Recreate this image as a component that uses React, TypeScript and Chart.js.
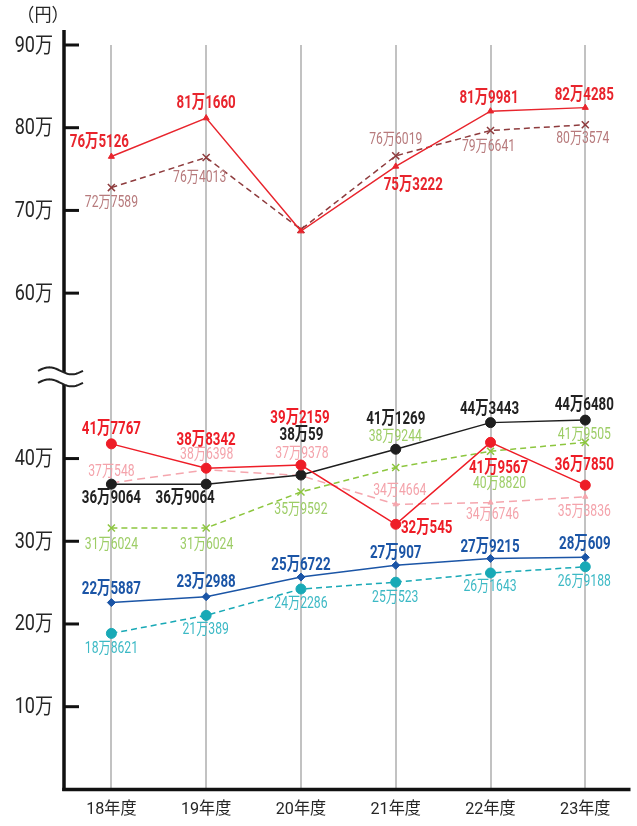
import { useEffect, useRef } from 'react';
import { Chart, registerables } from 'chart.js';

Chart.register(...registerables);

// ---- data ----
const categories = ['18年度', '19年度', '20年度', '21年度', '22年度', '23年度'];
const yTickValues = [100000, 200000, 300000, 400000, 600000, 700000, 800000, 900000];
const unitLabel = '（円）';

const seriesA = [765126, 811660, 675000, 753222, 819981, 824285];
const seriesB = [727589, 764013, 677000, 766019, 796641, 803574];
const seriesC = [417767, 388342, 392159, 320545, 419567, 367850];
const seriesD = [369064, 369064, 380059, 411269, 443443, 446480];
const seriesE = [370548, 386398, 379378, 344664, 346746, 353836];
const seriesF = [316024, 316024, 359592, 389244, 408820, 419505];
const seriesG = [225887, 232988, 256722, 270907, 279215, 280609];
const seriesH = [188621, 210389, 242286, 250523, 261643, 269188];

// ---- label placement (pixel offsets from the point; null = no label) ----
type Off = [number, number] | null;
const offA: Off[] = [[-12, -14.5], [0, -14.5], null, [17.5, 19], [-1.5, -12.5], [-1, -12.5]];
const offB: Off[] = [[0, 15], [-6.5, 21], null, [0, -15.6], [-2, 17], [-2.5, 14.5]];
const offC: Off[] = [[0, -14], [0, -28], [-1, -46.7], [31, 4], [8, 26], [-1, -20]];
const offD: Off[] = [[0, 14], [-21, 14], [0.5, -40], [0, -30], [-1, -13.5], [-1, -14.5]];
const offE: Off[] = [[0, -11], [0.5, -15], [1, -22], [4, -13.5], [2, 12], [-1, 15.5]];
const offF: Off[] = [[0, 17], [0.5, 17], [0, 18], [-0.5, -30.7], [9, 33], [-1, -7.7]];
const offG: Off[] = [[0, -13], [0, -14], [0, -11.6], [0, -11.4], [-0.5, -11], [-0.5, -12.8]];
const offH: Off[] = [[0, 16], [-0.5, 15], [0, 15], [-0.5, 16], [-0.5, 14], [-1, 15]];

const fmt = (v: number) => `${Math.floor(v / 10000)}万${v % 10000}`;

const FONT_FAMILY = 'Roboto, "Noto Sans CJK JP", sans-serif';

function drawText(
  ctx: CanvasRenderingContext2D,
  text: string,
  x: number,
  y: number,
  font: string,
  color: string,
  sx: number,
  align: CanvasTextAlign = 'center'
) {
  ctx.save();
  ctx.translate(x, y);
  ctx.scale(sx, 1);
  ctx.font = font;
  ctx.fillStyle = color;
  ctx.textAlign = align;
  ctx.textBaseline = 'middle';
  ctx.fillText(text, 0, 0);
  ctx.restore();
}

interface SeriesDef {
  values: number[];
  offs: Off[];
  color: string;
  labelColor: string;
  bold: boolean;
  dash: number[];
  pointStyle: string;
  radius: number;
}

const defs: SeriesDef[] = [
  { values: seriesA, offs: offA, color: '#e8252d', labelColor: '#e8252d', bold: true, dash: [], pointStyle: 'triangle', radius: 3.5 },
  { values: seriesB, offs: offB, color: '#8e3b3d', labelColor: '#b77a7c', bold: false, dash: [6, 4], pointStyle: 'crossRot', radius: 5 },
  { values: seriesC, offs: offC, color: '#ee1d27', labelColor: '#ee1d27', bold: true, dash: [], pointStyle: 'circle', radius: 5 },
  { values: seriesD, offs: offD, color: '#1e1e1e', labelColor: '#222222', bold: true, dash: [], pointStyle: 'circle', radius: 5 },
  { values: seriesE, offs: offE, color: '#f5a6ae', labelColor: '#f4a3ab', bold: false, dash: [8, 5], pointStyle: 'triangle', radius: 3 },
  { values: seriesF, offs: offF, color: '#8dc63f', labelColor: '#9dcd66', bold: false, dash: [6, 4], pointStyle: 'crossRot', radius: 5 },
  { values: seriesG, offs: offG, color: '#1b55a6', labelColor: '#1b55a6', bold: true, dash: [], pointStyle: 'rectRot', radius: 4 },
  { values: seriesH, offs: offH, color: '#18a9b6', labelColor: '#3cb9c5', bold: false, dash: [6, 4], pointStyle: 'circle', radius: 5 },
];

const decorPlugin = {
  id: 'decor',
  beforeDatasetsDraw(chart: any) {
    const ctx: CanvasRenderingContext2D = chart.ctx;
    const { left, right, bottom } = chart.chartArea;
    const ys = chart.scales.y;
    const xs = chart.scales.x;
    ctx.save();
    ctx.strokeStyle = '#111';
    ctx.lineCap = 'butt';
    // y axis line
    ctx.lineWidth = 3.5;
    ctx.beginPath();
    ctx.moveTo(left, 30);
    ctx.lineTo(left, bottom + 1.5);
    ctx.stroke();
    // x axis line
    ctx.beginPath();
    ctx.moveTo(left - 1.75, bottom);
    ctx.lineTo(right, bottom);
    ctx.stroke();
    // y ticks marks + labels
    ctx.lineWidth = 3;
    yTickValues.forEach((v) => {
      const py = ys.getPixelForValue(v);
      ctx.beginPath();
      ctx.moveTo(left, py);
      ctx.lineTo(left + 15, py);
      ctx.stroke();
      drawText(ctx, `${v / 10000}万`, left - 11, py + 1, `22px ${FONT_FAMILY}`, '#262626', 0.82, 'right');
    });
    // x labels
    xs.ticks.forEach((t: any) => {
      const px = xs.getPixelForValue(t.value);
      const lab = categories[t.value];
      if (lab) drawText(ctx, lab, px, bottom + 20.5, `17px ${FONT_FAMILY}`, '#262626', 0.95);
    });
    // unit
    drawText(ctx, unitLabel, 43, 16, `18px ${FONT_FAMILY}`, '#262626', 0.95);
    // axis break squiggle
    const yMid = ys.getPixelForValue(500000);
    const x0 = 38, x1 = 83, amp = 3.5;
    const yU = yMid - 5, yL = yMid + 7;
    const wave = (yc: number) => {
      const pts: [number, number][] = [];
      for (let i = 0; i <= 40; i++) {
        const t = i / 40;
        pts.push([x0 + (x1 - x0) * t, yc - amp * Math.sin(t * Math.PI * 2)]);
      }
      return pts;
    };
    const up = wave(yU), lo = wave(yL);
    ctx.fillStyle = '#ffffff';
    ctx.beginPath();
    up.forEach(([x, y], i) => (i ? ctx.lineTo(x, y) : ctx.moveTo(x, y)));
    for (let i = lo.length - 1; i >= 0; i--) ctx.lineTo(lo[i][0], lo[i][1]);
    ctx.closePath();
    ctx.fill();
    ctx.strokeStyle = '#222';
    ctx.lineWidth = 2;
    [up, lo].forEach((pts) => {
      ctx.beginPath();
      pts.forEach(([x, y], i) => (i ? ctx.lineTo(x, y) : ctx.moveTo(x, y)));
      ctx.stroke();
    });
    ctx.restore();
  },
  afterDatasetsDraw(chart: any) {
    const ctx: CanvasRenderingContext2D = chart.ctx;
    defs.forEach((d, di) => {
      const meta = chart.getDatasetMeta(di);
      meta.data.forEach((pt: any, i: number) => {
        const o = d.offs[i];
        if (!o) return;
        const font = d.bold ? `bold 18px ${FONT_FAMILY}` : `16px ${FONT_FAMILY}`;
        const sx = d.bold ? 0.74 : 0.76;
        drawText(ctx, fmt(d.values[i]), pt.x + o[0], pt.y + o[1], font, d.labelColor, sx);
      });
    });
  },
};

export default function App() {
  const ref = useRef<HTMLCanvasElement>(null);
  useEffect(() => {
    const chart = new Chart(ref.current!, {
      type: 'line',
      data: {
        datasets: defs.map((d) => ({
          data: d.values.map((v, i) => ({ x: i, y: v })),
          borderColor: d.color,
          backgroundColor: d.color,
          borderWidth: 1.5,
          borderDash: d.dash,
          pointStyle: d.pointStyle as any,
          pointRadius: d.radius,
          pointBorderColor: d.color,
          pointBackgroundColor: d.color,
          pointBorderWidth: d.pointStyle === 'crossRot' ? 1.5 : 1,
          tension: 0,
          fill: false,
        })),
      },
      options: {
        responsive: false,
        maintainAspectRatio: false,
        animation: false,
        layout: { padding: { top: 45, left: 0, right: 0, bottom: 0 } },
        plugins: { legend: { display: false }, tooltip: { enabled: false } },
        scales: {
          x: {
            type: 'linear',
            min: -0.5,
            max: 5.477,
            afterBuildTicks: (s: any) => {
              s.ticks = categories.map((_, i) => ({ value: i }));
            },
            afterFit: (s: any) => {
              s.height = 36.6;
            },
            ticks: { display: false },
            grid: { color: '#c2c2c2', lineWidth: 2, drawTicks: false },
            border: { display: false },
          },
          y: {
            type: 'linear',
            min: 0,
            max: 900000,
            ticks: { display: false, stepSize: 100000 },
            afterFit: (s: any) => {
              s.width = 64;
            },
            grid: { display: false },
            border: { display: false },
          },
        },
      },
      plugins: [decorPlugin],
    });
    return () => chart.destroy();
  }, []);
  return (
    <canvas
      ref={ref}
      width={637}
      height={826}
      style={{ position: 'absolute', left: 0, top: 0, width: 637, height: 826 }}
    />
  );
}
